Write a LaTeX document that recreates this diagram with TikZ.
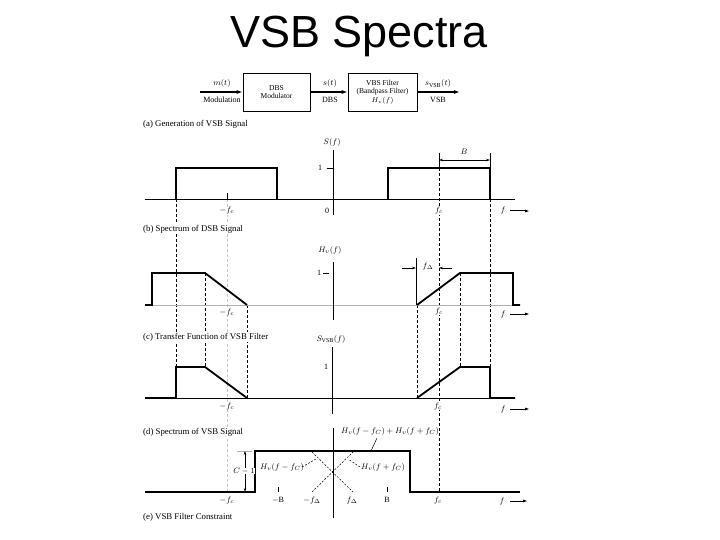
\documentclass[tikz,border=0pt]{standalone}
\usepackage{fontspec}
\setmainfont{Liberation Serif}
\newfontfamily\titlefont{Liberation Sans}
\usetikzlibrary{arrows.meta}
\begin{document}
\begin{tikzpicture}[x=1pt,y=-1pt,
  lbl/.style={font=\fontsize{8}{9}\selectfont, inner sep=0.5pt},
  wlbl/.style={lbl, fill=white},
  captxt/.style={font=\fontsize{8.8}{10}\selectfont, anchor=west, inner sep=1pt, fill=white},
  thickln/.style={line width=1.8pt, line join=miter},
  axisln/.style={line width=0.8pt},
  dsh/.style={dash pattern=on 3pt off 2pt, line width=0.6pt},
  gdsh/.style={dash pattern=on 3pt off 2pt, line width=0.6pt, draw=gray!45},
  blk/.style={draw, line width=0.6pt, minimum height=38pt, align=center, inner sep=1pt, font=\fontsize{7.5}{8.5}\selectfont},
  sig/.style={-{Latex[length=6pt,width=4pt]}, line width=1.3pt},
  farrow/.style={-{Latex[length=5pt,width=3pt]}, line width=1pt},
  dim/.style={{Stealth[length=4pt,width=2.5pt]}-{Stealth[length=4pt,width=2.5pt]}, line width=0.5pt},
  onearrow/.style={-{Stealth[length=4pt,width=2.5pt]}, line width=0.5pt},
]
\useasboundingbox (0,0) rectangle (720,540);
% title
\node[font=\titlefont\fontsize{45}{50}\selectfont, anchor=base, inner sep=0pt] (title) at (359,48) {VSB Spectra};

% ---------- block diagram ----------
\node[blk, minimum width=67pt] (mod) at (276.5,92) {DBS\\Modulator};
\node[blk, minimum width=69pt] (flt) at (382.5,92) {VBS Filter\\(Bandpass Filter)\\$H_v(f)$};
\coordinate (in) at (200,92);
\coordinate (out) at (460,92);
\draw[sig] (in) -- (mod);
\draw[sig] (mod) -- (flt);
\draw[sig] (flt) -- (out);
\node[lbl] (mt) at (222,84) {$m(t)$};
\node[lbl] (modl) at (222,100) {Modulation};
\node[lbl] (st) at (330,84) {$s(t)$};
\node[lbl] (dbsl) at (330,100) {DBS};
\node[lbl] (svsb) at (438,84) {$s_{\mathrm{VSB}}(t)$};
\node[lbl] (vsbl) at (438,100) {VSB};

% ---------- guide lines ----------
\draw[gdsh] (227,199) -- (227,492);
\draw[dsh] (176,199) -- (176,367);
\draw[dsh] (205,273) -- (205,367);
\draw[dsh] (247,305) -- (247,398);
\draw[dsh] (417,305) -- (417,398);
\draw[line width=0.5pt] (439,153) -- (439,168);
\draw[dsh] (439,168) -- (439,492);
\draw[dsh] (460,273) -- (460,367);
\draw[line width=0.5pt] (490,153) -- (490,168);
\draw[dsh] (490,199) -- (490,367);

% captions
\node[captxt] (ca) at (142,124) {(a) Generation of VSB Signal};
\node[captxt] (cb) at (142,229) {(b) Spectrum of DSB Signal};
\node[captxt] (cc) at (142,337) {(c) Transfer Function of VSB Filter};
\node[captxt] (cd) at (142,432) {(d) Spectrum of VSB Signal};
\node[captxt] (ce) at (142,517) {(e) VSB Filter Constraint};

% ---------- panel (a) ----------
\draw[axisln] (145,199) -- (515,199);
\draw[axisln] (333,150) -- (333,215);
\draw[line width=1.2pt] (176,199) |- (277,168) -- (277,199);
\draw[line width=1.2pt] (388,199) |- (490,168) -- (490,199);
\draw[line width=0.5pt] (327,168) -- (333,168);
\draw[line width=0.5pt] (227,193) -- (227,199);
\node[lbl] (sf) at (332,143) {$S(f)$};
\node[lbl] (a1) at (320,168) {1};
\node[wlbl] (amfc) at (227,211) {$-f_c$};
\node[lbl] (a0) at (327,211) {0};
\node[wlbl] (afc) at (439,211) {$f_c$};
\node[lbl] (af) at (503,211) {$f$};
\coordinate (afs) at (510,211); \coordinate (afe) at (530,211);
\draw[farrow] (afs) -- (afe);
\draw[dim] (439,160) -- (490,160);
\node[lbl] (bl) at (464,152) {$B$};

% ---------- panel (b) ----------
\draw[axisln, draw=gray!60] (145,305) -- (520,305);
\draw[axisln] (333,262) -- (333,320);
\draw[thickln] (145,305) -- (152,305) -- (152,273) -- (205,273) -- (247,305);
\draw[thickln] (417,305) -- (460,273) -- (513,273) -- (513,305) -- (520,305);
\draw[line width=0.5pt] (323,273) -- (329,273);
\node[lbl] (hv) at (330,250) {$H_v(f)$};
\node[lbl] (b1) at (319,273) {1};
\draw[line width=0.5pt] (416,258) -- (416,305);
\draw[onearrow] (402,268) -- (416,268);
\draw[onearrow] (452,268) -- (439,268);
\node[lbl] (fdl) at (428,266) {$f_\Delta$};
\node[wlbl] (bmfc) at (227,312) {$-f_c$};
\node[wlbl] (bfc) at (439,311) {$f_c$};
\node[lbl] (bf) at (503,314) {$f$};
\coordinate (bfs) at (510,314); \coordinate (bfe) at (530,314);
\draw[farrow] (bfs) -- (bfe);

% ---------- panel (c) ----------
\draw[axisln] (145,398) -- (515,398);
\draw[axisln] (332,347) -- (332,414);
\draw[thickln] (145,398) -- (176,398) -- (176,367) -- (205,367) -- (247,398);
\draw[thickln] (417,398) -- (460,367) -- (490,367) -- (490,398) -- (515,398);
\node[lbl] (svf) at (331,339) {$S_{\mathrm{VSB}}(f)$};
\node[lbl] (c1) at (326,367) {1};
\node[wlbl] (cmfc) at (227,406) {$-f_c$};
\node[wlbl] (cfc) at (438,406) {$f_c$};
\node[lbl] (cf) at (503,409) {$f$};
\coordinate (cfs) at (510,409); \coordinate (cfe) at (530,409);
\draw[farrow] (cfs) -- (cfe);

% ---------- panel (d)/(e) ----------
\draw[axisln] (333,428) -- (333,518);
\draw[line width=2.2pt, line join=miter] (145,492) -- (255,492) -- (255,451) -- (410,451) -- (410,492) -- (520,492);
\draw[dash pattern=on 2pt off 1.5pt, line width=0.5pt] (312,452) -- (353,492);
\draw[dash pattern=on 2pt off 1.5pt, line width=0.5pt] (312,492) -- (353,452);
\fill (333,472) circle (1.1pt);
\draw[line width=0.5pt] (278,487) -- (278,492);
\draw[line width=0.5pt] (387,487) -- (387,492);
\draw[line width=0.6pt, draw=gray!60] (237,451) -- (252,451);
\draw[dim] (245,451) -- (245,492);
\node[lbl, fill=white, inner sep=0.3pt] (cm1) at (244,471) {$C-1$};
\node[lbl] (hsum) at (390,431) {$H_v(f-f_C)+H_v(f+f_C)$};
\draw[line width=0.5pt] (377,438) -- (371,451);
\node[lbl] (hm) at (282,467) {$H_v(f-f_C)$};
\draw[dash pattern=on 2pt off 1.5pt, line width=0.5pt] (302,467) -- (316,459);
\node[lbl] (hp) at (383,467) {$H_v(f+f_C)$};
\draw[dash pattern=on 2pt off 1.5pt, line width=0.5pt] (360,467) -- (348,459);
\node[wlbl] (dmfc) at (227,500) {$-f_c$};
\node[lbl] (dmb) at (278,500) {$-\mathrm{B}$};
\node[lbl] (dmfd) at (312,500) {$-f_\Delta$};
\node[lbl] (dfd) at (352,500) {$f_\Delta$};
\node[lbl] (db) at (387,500) {B};
\node[wlbl] (dfc) at (438,500) {$f_c$};
\node[lbl] (df) at (502,501) {$f$};
\coordinate (dfs) at (510,501); \coordinate (dfe) at (528,501);
\draw[farrow] (dfs) -- (dfe);
\end{tikzpicture}
\end{document}
